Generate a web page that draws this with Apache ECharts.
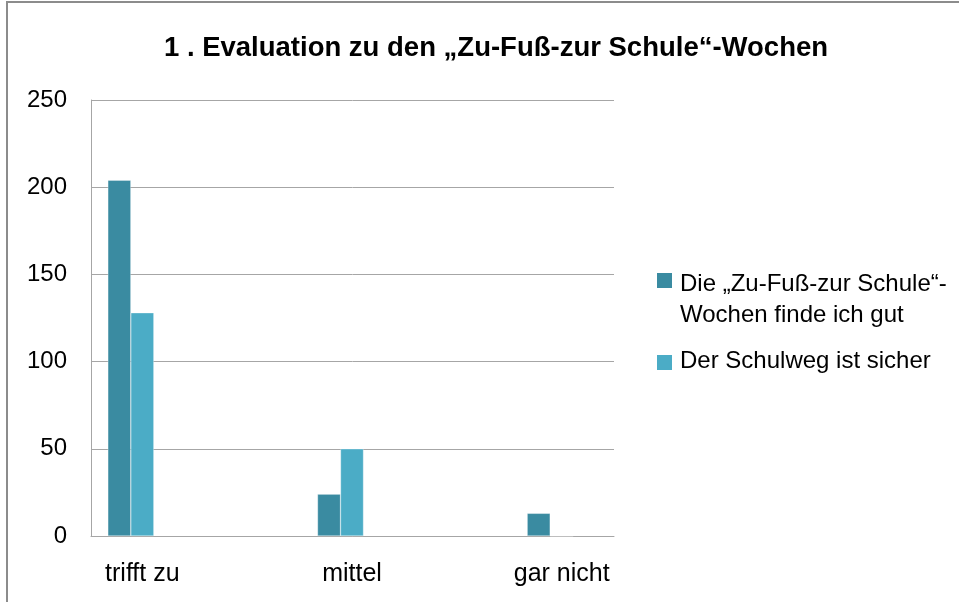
<!DOCTYPE html>
<html><head><meta charset="utf-8">
<script src="https://cdn.jsdelivr.net/npm/echarts@6/dist/echarts.min.js"></script>
<style>html,body{margin:0;padding:0;background:#fff}#c{width:959px;height:602px}</style>
</head><body><div id="c"></div>
<script>
const titleText = '1 . Evaluation zu den „Zu-Fuß-zur Schule“-Wochen';
const categories = ['trifft zu', 'mittel', 'gar nicht'];
const seriesNames = ['Die „Zu-Fuß-zur Schule“-\nWochen finde ich gut', 'Der Schulweg ist sicher'];
const gutValues = [204, 24, 13];
const sicherValues = [128, 50, 0];
const emptyValues = [0, 0, 0];
const yTicks = [0, 50, 100, 150, 200, 250];
const colors = ['#3A8BA1', '#4BACC6'];

const FONT = 'Liberation Sans';
const chart = echarts.init(document.getElementById('c'), null, {renderer: 'canvas'});
const gridTop = 100, gridBottom = 66;
chart.setOption({
  backgroundColor: '#fff',
  animation: false,
  title: {
    text: titleText, left: 491, top: 29, textAlign: 'center',
    textStyle: {fontFamily: FONT, fontWeight: 'bold', fontSize: 27.5, color: '#000'}
  },
  grid: [
    {left: 91, right: 345, top: gridTop, bottom: gridBottom},
    {left: 37.5, width: 629, top: gridTop, bottom: gridBottom}
  ],
  xAxis: [
    {type: 'category', gridIndex: 0, data: categories, axisLabel: {show: false}, axisTick: {show: false},
     axisLine: {lineStyle: {color: '#A6A6A6', width: 1}}},
    {type: 'category', gridIndex: 1, data: categories, axisLine: {show: false}, axisTick: {show: false},
     axisLabel: {margin: 26, fontFamily: FONT, fontSize: 25, color: '#000'}}
  ],
  yAxis: [
    {type: 'value', gridIndex: 0, min: 0, max: 250, interval: 50,
     axisLine: {show: true, lineStyle: {color: '#A6A6A6', width: 1}}, axisTick: {show: false},
     splitLine: {lineStyle: {color: '#A6A6A6', width: 1}},
     axisLabel: {margin: 24, fontFamily: FONT, fontSize: 24, color: '#000',
       formatter: v => yTicks.includes(v) ? String(v) : ''}},
    {type: 'value', gridIndex: 1, min: 0, max: 250, interval: 50, show: false}
  ],
  series: [
    {name: seriesNames[0], type: 'bar', xAxisIndex: 1, yAxisIndex: 1, data: gutValues, barWidth: 23, barGap: '0%',
     itemStyle: {color: colors[0], borderColor: 'rgba(255,255,255,0.6)', borderWidth: 0.5}},
    {name: seriesNames[1], type: 'bar', xAxisIndex: 1, yAxisIndex: 1, data: sicherValues, barWidth: 23, barGap: '0%',
     itemStyle: {color: colors[1], borderColor: 'rgba(255,255,255,0.6)', borderWidth: 0.5}},
    {name: 'leer', type: 'bar', xAxisIndex: 1, yAxisIndex: 1, data: emptyValues, barWidth: 23, barGap: '0%',
     itemStyle: {color: 'rgba(0,0,0,0)'}}
  ],
  graphic: [
    {type: 'rect', shape: {x: 7, y: 2, width: 1000, height: 700}, style: {fill: 'none', stroke: '#8C8C8C', lineWidth: 2}, silent: true},
    {type: 'rect', shape: {x: 657, y: 273, width: 15, height: 15}, style: {fill: colors[0]}},
    {type: 'text', left: 680, top: 269, style: {text: seriesNames[0], fontFamily: FONT, fontSize: 24, fill: '#000', lineHeight: 31}},
    {type: 'rect', shape: {x: 657, y: 355, width: 15, height: 15}, style: {fill: colors[1]}},
    {type: 'text', left: 680, top: 349, style: {text: seriesNames[1], fontFamily: FONT, fontSize: 24, fill: '#000'}}
  ]
});
</script></body></html>
